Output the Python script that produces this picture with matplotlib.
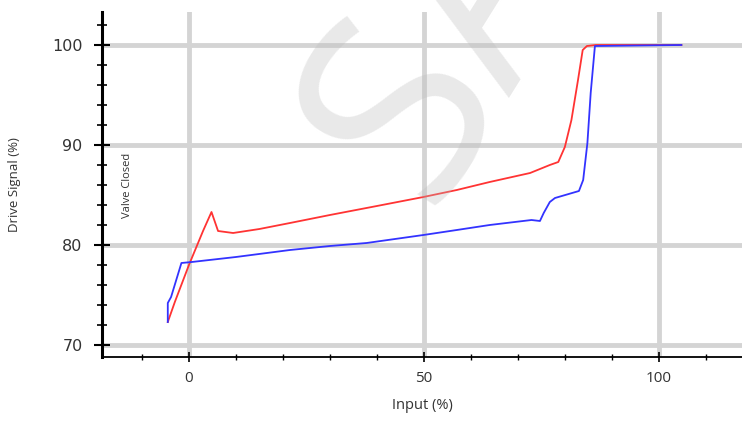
import matplotlib
matplotlib.use("Agg")
import matplotlib.pyplot as plt
from matplotlib.ticker import MultipleLocator, FixedLocator

# Red curve (Input %, Drive Signal %)
red_x = [-4.5, -3.0, 0.0, 3.0, 4.8, 6.2, 9.4, 15.0, 21.5, 30.0, 40.0, 49.9, 57.0, 64.0, 72.6, 76.8, 78.6,
         80.0, 81.4, 82.8, 83.8, 84.7, 86.6, 104.8]
red_y = [72.3, 74.3, 78.0, 81.4, 83.3, 81.4, 81.2, 81.6, 82.2, 83.0, 83.9, 84.8, 85.5, 86.3, 87.2, 88.0, 88.3,
         89.8, 92.5, 96.5, 99.5, 99.9, 100.0, 100.0]

# Blue curve
blue_x = [-4.5, -4.5, -3.8, -1.6, 0.6, 10.0, 21.5, 30.0, 37.8, 49.9, 57.0, 64.0, 72.9, 74.7, 75.5, 76.8, 77.9,
          83.0, 83.9, 84.8, 85.5, 86.4, 104.8]
blue_y = [72.3, 74.2, 74.8, 78.2, 78.3, 78.8, 79.5, 79.9, 80.2, 81.0, 81.5, 82.0, 82.5, 82.4, 83.2, 84.3, 84.7,
          85.4, 86.5, 90.2, 95.2, 99.9, 100.0]

x_major = [0, 50, 100]
y_major = [70, 80, 90, 100]
x_label = "Input (%)"
y_label = "Drive Signal (%)"
annotation = "Valve Closed"
watermark = "SAMPLE"

plt.rcParams['font.family'] = ['Open Sans', 'DejaVu Sans']

fig = plt.figure(figsize=(7.42, 4.21), dpi=100)
ax = fig.add_axes([102/742, (421-357)/421, 1 - 102/742, (357-12)/421])

ax.set_xlim(-18.5, 117.7)
ax.set_ylim(68.8, 103.3)

ax.plot(red_x, red_y, color='#ff3333', lw=1.3, zorder=3)
ax.plot(blue_x, blue_y, color='#3333ff', lw=1.3, zorder=4)

ax.xaxis.set_major_locator(FixedLocator(x_major))
ax.xaxis.set_minor_locator(MultipleLocator(10))
ax.yaxis.set_major_locator(FixedLocator(y_major))
ax.yaxis.set_minor_locator(MultipleLocator(2))

ax.grid(True, which='major', color='#d4d4d4', lw=3.5, zorder=0)
ax.set_axisbelow(True)

for s in ['top', 'right']:
    ax.spines[s].set_visible(False)
ax.spines['left'].set_linewidth(2.2)
ax.spines['bottom'].set_linewidth(1.3)

ax.tick_params(axis='y', which='major', direction='inout', length=12, width=1.5, labelsize=11.5, pad=8)
ax.tick_params(axis='y', which='minor', direction='inout', length=6.5, width=1.2)
ax.tick_params(axis='x', which='major', direction='inout', length=7.5, width=1.2, labelsize=11, pad=6)
ax.tick_params(axis='x', which='minor', direction='inout', length=4.5, width=1.0)
for lbl in ax.get_yticklabels():
    lbl.set_family('DejaVu Sans')
    lbl.set_color('#333333')
for lbl in ax.get_xticklabels():
    lbl.set_color('#333333')

ax.set_xlabel(x_label, fontsize=10.5, color='#333333', labelpad=9)
fig.text(15/742, 1 - 185/421, y_label, rotation=90, ha='center', va='center',
         fontsize=9.5, color='#333333')
fig.text(127/742, 1 - 185/421, annotation, rotation=90, ha='center', va='center',
         fontsize=8, color='#333333')

fig.text(427/742, 1 - 208/421, watermark, rotation=58, rotation_mode='anchor', ha='left', va='baseline',
         fontsize=190, color='#bbbbbb', alpha=0.32, zorder=10)

fig.savefig('out.png', dpi=100)
